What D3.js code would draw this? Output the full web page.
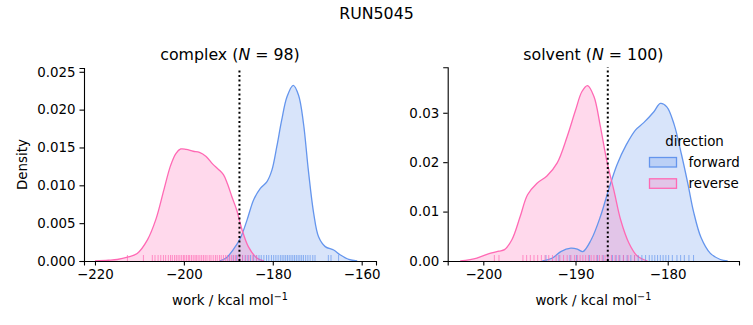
<!DOCTYPE html>
<html>
<head>
<meta charset="utf-8">
<script src="https://cdn.jsdelivr.net/npm/d3@7"></script>
<style>
  body { margin: 0; background: #fff; }
  text { font-family: "DejaVu Sans", sans-serif; fill: #000; }
</style>
</head>
<body>
<svg id="chart" width="753" height="325"></svg>
<script>
// ---------------- DATA ----------------
const suptitle = "RUN5045";
const directions = ["forward", "reverse"];
const colors = { forward: "#6495ED", reverse: "#FF69B4" };

// complex panel
const complexN = 98;
const complexXTicks = [-220, -200, -180, -160];
const complexYTicks = [0, 0.005, 0.010, 0.015, 0.020, 0.025];
const complexMarker = -187.5;
const complexForwardKde = [
  [-192, 0], [-190.5, 0.0004], [-188.9, 0.0015], [-187.3, 0.003], [-185.8, 0.0054],
  [-184.3, 0.0081], [-182.8, 0.0096], [-181.3, 0.0105], [-180.2, 0.0120], [-179.1, 0.0151],
  [-178, 0.0186], [-176.8, 0.0217], [-175.4, 0.0232], [-174.2, 0.0219], [-173.1, 0.0182],
  [-172, 0.0120], [-170.8, 0.0063], [-169.7, 0.0032], [-168.2, 0.0019], [-166.3, 0.00145],
  [-164.8, 0.0008], [-162.9, 0.0002], [-161, 0]
];
const complexReverseKde = [
  [-220, 0], [-217, 0.0001], [-215, 0.0002], [-212.7, 0.0005], [-210.5, 0.0010],
  [-208.2, 0.0028], [-206.3, 0.0055], [-204.5, 0.0094], [-203, 0.0126], [-201.8, 0.0142],
  [-200.7, 0.0148], [-199.5, 0.01475], [-197.9, 0.0145], [-196.5, 0.01435], [-195, 0.0138],
  [-193.5, 0.0128], [-192.2, 0.0121], [-191.1, 0.0114], [-190.2, 0.0102], [-189.2, 0.0085],
  [-188.1, 0.0067], [-187, 0.0043], [-185.5, 0.0019], [-183.6, 0.0004], [-182, 0]
];
const complexForwardRug = [
  -189.8, -188.9, -188.2, -187.5, -186.8, -186.2, -185.6, -185.0, -184.3, -183.7,
  -183.1, -182.6, -182.0, -181.4, -180.9, -180.3, -179.8, -179.3, -178.8, -178.3,
  -177.9, -177.5, -177.1, -176.7, -176.3, -175.9, -175.5, -175.1, -174.7, -174.3,
  -173.9, -173.5, -173.1, -172.6, -172.1, -171.6, -171.0, -170.5, -167.5, -166.9, -165.2
];
const complexReverseRug = [
  -212.7, -209.1, -207.1, -206.5, -205.8, -205.2, -204.6, -204.1, -203.5, -203.0,
  -202.6, -202.1, -201.7, -201.3, -200.9, -200.5, -200.1, -199.8, -199.4, -199.0,
  -198.7, -198.3, -197.9, -197.5, -197.2, -196.8, -196.4, -196.0, -195.6, -195.2,
  -194.8, -194.3, -193.9, -193.4, -192.9, -192.5, -192.0, -191.6, -191.1, -190.6,
  -190.2, -189.7, -189.3, -188.8, -188.4, -187.9, -187.4, -186.8, -186.1, -185.4,
  -184.5, -183.6
];

// solvent panel
const solventN = 100;
const solventXTicks = [-200, -190, -180];
const solventYTicks = [0, 0.01, 0.02, 0.03];
const solventMarker = -186.5;
const solventForwardKde = [
  [-193.6, 0], [-192.5, 0.0006], [-191.6, 0.0019], [-190.5, 0.0026], [-189.8, 0.0024],
  [-189.2, 0.0019], [-188.3, 0.0043], [-187.3, 0.0090], [-186.4, 0.0145], [-185.5, 0.0195],
  [-184.5, 0.0235], [-183.5, 0.0265], [-182.6, 0.0280], [-181.5, 0.0302], [-180.8, 0.0319],
  [-180.1, 0.0312], [-179.3, 0.0276], [-178.5, 0.0215], [-177.8, 0.0155], [-177.2, 0.0100],
  [-176.4, 0.0048], [-175.4, 0.0016], [-174.3, 0.0003], [-173.5, 0]
];
const solventReverseKde = [
  [-202.5, 0], [-200.7, 0.0006], [-199.2, 0.0016], [-198.3, 0.0020], [-197.7, 0.0023],
  [-196.9, 0.0043], [-196, 0.0090], [-195.2, 0.0134], [-194.2, 0.0157], [-193.1, 0.0172],
  [-192, 0.0198], [-190.9, 0.0252], [-190, 0.0305], [-189.3, 0.0343], [-188.7, 0.0355],
  [-188, 0.0333], [-187.3, 0.0272], [-186.6, 0.0202], [-185.8, 0.0140], [-185.1, 0.0083],
  [-184.2, 0.0036], [-183.3, 0.0010], [-182.2, 0]
];
const solventForwardRug = [
  -193.2, -191.8, -190.6, -189.9, -188.5, -187.6, -187.0, -186.5, -186.0, -185.6,
  -185.2, -184.8, -184.4, -184.0, -183.6, -183.2, -182.8, -182.4, -182.0, -181.7,
  -181.4, -181.1, -180.8, -180.5, -180.2, -179.9, -179.5, -179.0, -178.6, -178.2,
  -177.7, -177.2
];
const solventReverseRug = [
  -198.8, -198.3, -195.7, -195.3, -194.9, -194.5, -194.1, -193.7, -193.3, -192.9,
  -192.5, -192.1, -191.7, -191.3, -190.9, -190.5, -190.1, -189.8, -189.5, -189.2,
  -188.9, -188.6, -188.3, -188.0, -187.7, -187.4, -187.1, -186.8, -186.5, -186.1,
  -185.7, -185.3, -184.8, -184.3, -183.6
];

// ---------------- DRAW ----------------
const svg = d3.select("#chart");
const TICK_FONT = 13.4, TITLE_FONT = 15.8;

svg.append("text").attr("x", 376.5).attr("y", 18.5).attr("text-anchor", "middle")
  .style("font-size", TITLE_FONT + "px").text(suptitle);

const panels = [
  { name: "complex", n: complexN, xDomain: [-222.47, -156.78], xRange: [84, 376],
    yDomain: [0, 0.0255], yRange: [261, 68], xTicks: complexXTicks, yTicks: complexYTicks,
    yFmt: ".3f", marker: complexMarker, ylabel: true,
    kde: { forward: complexForwardKde, reverse: complexReverseKde },
    rug: { forward: complexForwardRug, reverse: complexReverseRug } },
  { name: "solvent", n: solventN, xDomain: [-203.86, -172.27], xRange: [447.7, 739],
    yDomain: [0, 0.0392], yRange: [261, 67.3], xTicks: solventXTicks, yTicks: solventYTicks,
    yFmt: ".2f", marker: solventMarker, ylabel: false, legend: true,
    kde: { forward: solventForwardKde, reverse: solventReverseKde },
    rug: { forward: solventForwardRug, reverse: solventReverseRug } }
];

panels.forEach(p => {
  const x = d3.scaleLinear().domain(p.xDomain).range(p.xRange);
  const y = d3.scaleLinear().domain(p.yDomain).range(p.yRange);
  const g = svg.append("g");

  const area = d3.area().x(d => x(d[0])).y0(y(0)).y1(d => y(d[1])).curve(d3.curveCatmullRom);
  const line = d3.line().x(d => x(d[0])).y(d => y(d[1])).curve(d3.curveCatmullRom);

  directions.forEach(dir => {
    g.append("path").datum(p.kde[dir]).attr("d", area)
      .attr("fill", colors[dir]).attr("fill-opacity", 0.25).attr("stroke", "none");
  });
  directions.forEach(dir => {
    g.append("path").datum(p.kde[dir]).attr("d", line)
      .attr("fill", "none").attr("stroke", colors[dir]).attr("stroke-width", 1.3);
  });

  // rug
  const rugH = 6;
  directions.forEach(dir => {
    g.selectAll(null).data(p.rug[dir]).enter().append("line")
      .attr("x1", d => x(d)).attr("x2", d => x(d))
      .attr("y1", y(0)).attr("y2", y(0) - rugH)
      .attr("stroke", colors[dir]).attr("stroke-opacity", 0.7).attr("stroke-width", 1);
  });

  // marker
  g.append("line").attr("x1", x(p.marker)).attr("x2", x(p.marker))
    .attr("y1", p.yRange[0]).attr("y2", p.yRange[1])
    .attr("stroke", "#000").attr("stroke-width", 2).attr("stroke-dasharray", "2,2.6");

  // axes
  const xAxis = d3.axisBottom(x).tickValues(p.xTicks).tickSizeOuter(0).tickSize(4.5).tickPadding(4);
  const gx = g.append("g").attr("transform", `translate(0,${p.yRange[0]})`).call(xAxis);
  const yAxis = d3.axisLeft(y).tickValues(p.yTicks).tickFormat(d3.format(p.yFmt))
    .tickSizeOuter(0).tickSize(4.5).tickPadding(4);
  const gy = g.append("g").attr("transform", `translate(${p.xRange[0]},0)`).call(yAxis);
  [gx, gy].forEach(a => {
    a.select(".domain").attr("stroke", "#000").attr("stroke-width", 1.1);
    a.selectAll(".tick line").attr("stroke", "#000").attr("stroke-width", 1.1);
    a.selectAll(".tick text").style("font-size", TICK_FONT + "px")
      .style("font-family", "DejaVu Sans").attr("fill", "#000");
  });

  // title
  const cx = (p.xRange[0] + p.xRange[1]) / 2;
  const t = g.append("text").attr("x", cx).attr("y", 59.5).attr("text-anchor", "middle")
    .style("font-size", TITLE_FONT + "px");
  t.append("tspan").text(p.name + " (");
  t.append("tspan").style("font-style", "italic").text("N");
  t.append("tspan").text(" = " + p.n + ")");

  // x label
  const xl = g.append("text").attr("x", cx).attr("y", 305).attr("text-anchor", "middle")
    .style("font-size", TICK_FONT + "px");
  xl.append("tspan").text("work / kcal mol");
  xl.append("tspan").attr("dy", -5).style("font-size", "9.6px").text("\u22121");

  if (p.ylabel) {
    svg.append("text").attr("transform", `translate(27,${(p.yRange[0] + p.yRange[1]) / 2}) rotate(-90)`)
      .attr("text-anchor", "middle").style("font-size", TICK_FONT + "px").text("Density");
  }

  if (p.legend) {
    const lg = svg.append("g");
    lg.append("text").attr("x", 694.5).attr("y", 145.5).attr("text-anchor", "middle")
      .style("font-size", TICK_FONT + "px").text("direction");
    directions.forEach((dir, i) => {
      const yy = 157.5 + i * 21.3;
      lg.append("rect").attr("x", 649.5).attr("y", yy).attr("width", 27).attr("height", 9.5)
        .attr("fill", colors[dir]).attr("fill-opacity", 0.25)
        .attr("stroke", colors[dir]).attr("stroke-width", 1.3);
      lg.append("text").attr("x", 688.5).attr("y", yy + 9.3)
        .style("font-size", TICK_FONT + "px").text(dir);
    });
  }
});
</script>
</body>
</html>
